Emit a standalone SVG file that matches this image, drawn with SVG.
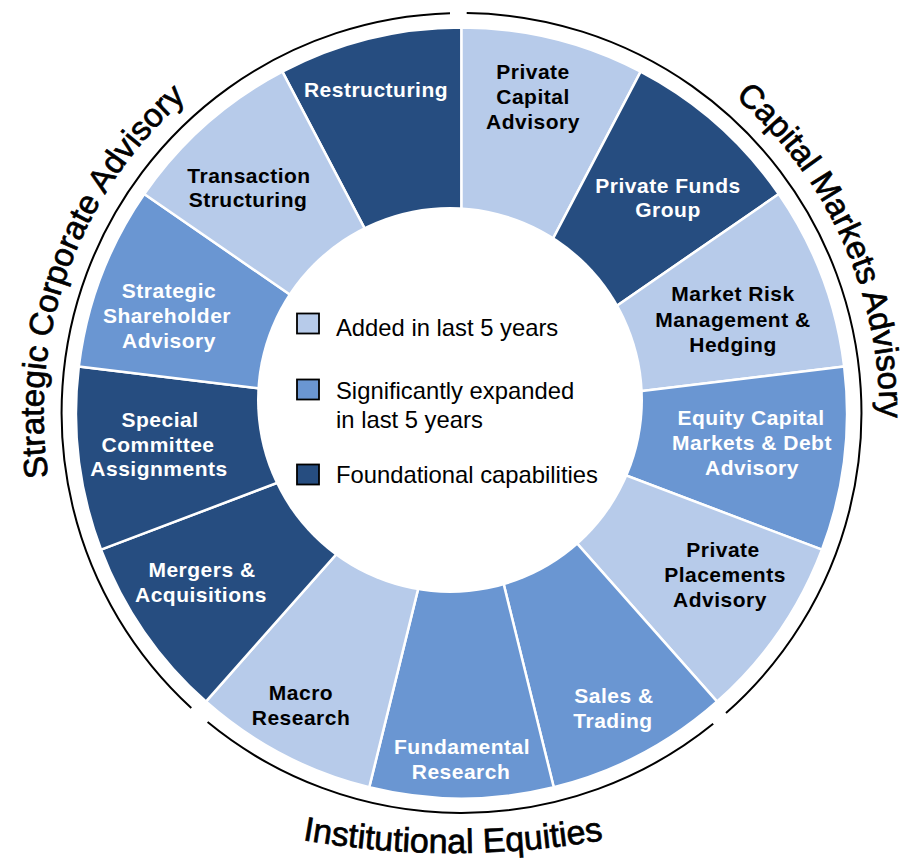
<svg xmlns="http://www.w3.org/2000/svg" width="901" height="861" viewBox="0 0 901 861">
<defs>
<style>
.lt{fill:#B7CBEA}
.md{fill:#6A96D2}
.dk{fill:#264D80}
.seg{stroke:#fff;stroke-width:2.5;stroke-linejoin:round}
.lbl{font-family:"Liberation Sans",Arial,sans-serif;font-weight:bold;font-size:21px;text-anchor:middle;letter-spacing:0.5px}
.w{fill:#fff}
.b{fill:#000}
.leg{font-family:"Liberation Sans",Arial,sans-serif;font-size:23.8px;fill:#000}
.cat{font-family:"Liberation Sans",Arial,sans-serif;font-size:33px;fill:#000;stroke:#000;stroke-width:0.7px}
.arc{fill:none;stroke:#000;stroke-width:2}
.sw{stroke:#000;stroke-width:1.8}
</style>
<path id="pL" d="M99.5 622 A418 418 0 0 1 318.5 20.2"/>
<path id="pR" d="M575.3 10.8 A418 418 0 0 1 837.8 594.9"/>
<path id="pB" d="M253 829.8 A872 872 0 0 0 653 829.8"/>
</defs>
<rect width="901" height="861" fill="#fff"/>

<g id="restructuring">
<path class="seg dk" d="M461.5 413 L282.35 71.65 A385.5 385.5 0 0 1 461.5 27.5 Z"/>
<text class="lbl w" x="376" y="97">Restructuring</text>
</g>
<g id="private-capital-advisory">
<path class="seg lt" d="M461.5 413 L461.5 27.5 A385.5 385.5 0 0 1 640.65 71.65 Z"/>
<text class="lbl b"><tspan x="533" y="79">Private</tspan><tspan x="533" y="104">Capital</tspan><tspan x="533" y="129">Advisory</tspan></text>
</g>
<g id="private-funds-group">
<path class="seg dk" d="M461.5 413 L640.65 71.65 A385.5 385.5 0 0 1 778.76 194.01 Z"/>
<text class="lbl w"><tspan x="668" y="193">Private Funds</tspan><tspan x="668" y="217">Group</tspan></text>
</g>
<g id="market-risk">
<path class="seg lt" d="M461.5 413 L778.76 194.01 A385.5 385.5 0 0 1 844.19 366.53 Z"/>
<text class="lbl b"><tspan x="733" y="301">Market Risk</tspan><tspan x="733" y="327">Management &amp;</tspan><tspan x="733" y="352">Hedging</tspan></text>
</g>
<g id="equity-capital-markets">
<path class="seg md" d="M461.5 413 L844.19 366.53 A385.5 385.5 0 0 1 821.95 549.7 Z"/>
<text class="lbl w"><tspan x="751" y="425">Equity  Capital</tspan><tspan x="752" y="450">Markets &amp; Debt</tspan><tspan x="752" y="475">Advisory</tspan></text>
</g>
<g id="private-placements">
<path class="seg lt" d="M461.5 413 L821.95 549.7 A385.5 385.5 0 0 1 717.13 701.55 Z"/>
<text class="lbl b"><tspan x="723" y="557">Private</tspan><tspan x="725" y="582">Placements</tspan><tspan x="720" y="607">Advisory</tspan></text>
</g>
<g id="sales-trading">
<path class="seg md" d="M461.5 413 L717.13 701.55 A385.5 385.5 0 0 1 553.76 787.3 Z"/>
<text class="lbl w"><tspan x="614" y="703">Sales &amp;</tspan><tspan x="613" y="728">Trading</tspan></text>
</g>
<g id="fundamental-research">
<path class="seg md" d="M461.5 413 L553.76 787.3 A385.5 385.5 0 0 1 369.24 787.3 Z"/>
<text class="lbl w"><tspan x="462" y="754">Fundamental</tspan><tspan x="461" y="779">Research</tspan></text>
</g>
<g id="macro-research">
<path class="seg lt" d="M461.5 413 L369.24 787.3 A385.5 385.5 0 0 1 205.87 701.55 Z"/>
<text class="lbl b"><tspan x="301" y="700">Macro</tspan><tspan x="301" y="725">Research</tspan></text>
</g>
<g id="mergers-acquisitions">
<path class="seg dk" d="M461.5 413 L205.87 701.55 A385.5 385.5 0 0 1 101.05 549.7 Z"/>
<text class="lbl w"><tspan x="202" y="577">Mergers &amp;</tspan><tspan x="201" y="602">Acquisitions</tspan></text>
</g>
<g id="special-committee">
<path class="seg dk" d="M461.5 413 L101.05 549.7 A385.5 385.5 0 0 1 78.81 366.53 Z"/>
<text class="lbl w"><tspan x="160" y="427">Special</tspan><tspan x="158" y="452">Committee</tspan><tspan x="159" y="476">Assignments</tspan></text>
</g>
<g id="strategic-shareholder">
<path class="seg md" d="M461.5 413 L78.81 366.53 A385.5 385.5 0 0 1 144.24 194.01 Z"/>
<text class="lbl w"><tspan x="169" y="298">Strategic</tspan><tspan x="167" y="323">Shareholder</tspan><tspan x="169" y="348">Advisory</tspan></text>
</g>
<g id="transaction-structuring">
<path class="seg lt" d="M461.5 413 L144.24 194.01 A385.5 385.5 0 0 1 282.35 71.65 Z"/>
<text class="lbl b"><tspan x="249" y="183">Transaction</tspan><tspan x="248" y="207">Structuring</tspan></text>
</g>

<g id="legend">
<circle cx="450" cy="400" r="193" fill="#fff"/>
<rect class="sw lt" x="297" y="313.5" width="22" height="20"/>
<text class="leg" x="336" y="336">Added in last 5 years</text>
<rect class="sw md" x="297" y="379.5" width="22" height="20"/>
<text class="leg"><tspan x="336" y="399">Significantly expanded</tspan><tspan x="336" y="428">in last 5 years</tspan></text>
<rect class="sw dk" x="297" y="464.5" width="22" height="20"/>
<text class="leg" x="336" y="483">Foundational capabilities</text>
</g>

<g id="category-arcs">
<path class="arc" d="M191.3 707.9 A400 400 0 0 1 450 13.2"/>
<path class="arc" d="M466.7 13 A400 400 0 0 1 726 713"/>
<path class="arc" d="M713.2 723.8 A400 400 0 0 1 207.6 722.1"/>
</g>
<g id="category-labels">
<text class="cat"><textPath href="#pL" startOffset="50%" text-anchor="middle">Strategic Corporate Advisory</textPath></text>
<text class="cat"><textPath href="#pR" startOffset="50%" text-anchor="middle">Capital Markets Advisory</textPath></text>
<text class="cat" style="font-size:34px"><textPath href="#pB" startOffset="50%" text-anchor="middle">Institutional Equities</textPath></text>
</g>
</svg>
